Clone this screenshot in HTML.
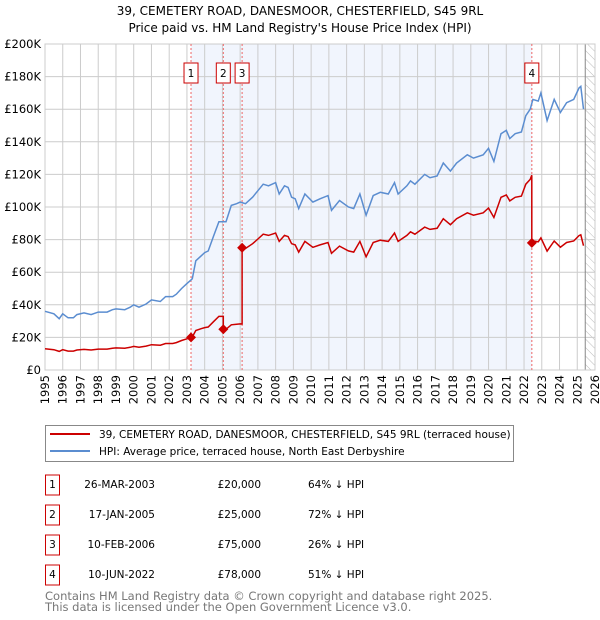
<!DOCTYPE html>
<html><head><meta charset="utf-8">
<style>
body{margin:0;background:#fff;font-family:"DejaVu Sans","Liberation Sans",sans-serif;}
svg{display:block}
</style></head>
<body>
<svg id="chart" width="600" height="620" xmlns="http://www.w3.org/2000/svg" font-family="DejaVu Sans, Liberation Sans, sans-serif">
<defs>
<pattern id="hatch" width="6" height="6" patternUnits="userSpaceOnUse" patternTransform="rotate(-45)">
<line x1="0" y1="0" x2="0" y2="6" stroke="#bbb" stroke-width="1"/>
</pattern>
</defs>
<text x="300" y="15" text-anchor="middle" font-size="12">39, CEMETERY ROAD, DANESMOOR, CHESTERFIELD, S45 9RL</text>
<text x="300" y="32" text-anchor="middle" font-size="12">Price paid vs. HM Land Registry's House Price Index (HPI)</text>
<g id="plot"></g>
<g>
<rect x="45.5" y="425.5" width="468" height="36" fill="#fff" stroke="#888"/>
<line x1="50" y1="434" x2="90" y2="434" stroke="#cc0000" stroke-width="2"/>
<text x="99" y="438" font-size="10.5">39, CEMETERY ROAD, DANESMOOR, CHESTERFIELD, S45 9RL (terraced house)</text>
<line x1="50" y1="451" x2="90" y2="451" stroke="#5b8dd0" stroke-width="2"/>
<text x="99" y="455" font-size="10.5">HPI: Average price, terraced house, North East Derbyshire</text>
</g>
<g id="table" font-size="10.5"></g>
<text x="45" y="600" font-size="11.5" fill="#777">Contains HM Land Registry data © Crown copyright and database right 2025.</text>
<text x="45" y="611" font-size="11.5" fill="#777">This data is licensed under the Open Government Licence v3.0.</text>
</svg>
<script>
const hpiYears=[1995,1995.5,1995.8,1996,1996.3,1996.6,1996.8,1997.2,1997.6,1998,1998.5,1998.8,1999,1999.5,1999.8,2000,2000.3,2000.7,2001,2001.5,2001.8,2002.2,2002.4,2002.7,2003,2003.2,2003.3,2003.5,2003.8,2004,2004.2,2004.5,2004.8,2005,2005.2,2005.5,2005.8,2006,2006.3,2006.7,2007,2007.3,2007.6,2008,2008.2,2008.5,2008.7,2008.9,2009.1,2009.3,2009.65,2010.1,2010.5,2010.95,2011.15,2011.6,2012.1,2012.4,2012.75,2013.1,2013.5,2013.9,2014.35,2014.7,2014.9,2015.4,2015.6,2015.85,2016.4,2016.7,2017.1,2017.45,2017.85,2018.2,2018.8,2019.15,2019.7,2020,2020.3,2020.7,2021,2021.2,2021.5,2021.85,2022.1,2022.35,2022.5,2022.8,2022.95,2023.3,2023.7,2024.05,2024.4,2024.8,2025.1,2025.2,2025.35];
const hpiValues=[36,34.5,31.5,34.5,32,32,34,35,34,35.5,35.5,37,37.5,37,38.5,40,38.5,40.5,43,42,45,45,46.5,50,53,55,56,67,70,72,73,82,91,91,91,101,102,103,102,106,110,114,113,115,108,113,112,106,105,99,108,103,105,107,98,104,100,99,108,95,107,109,108,115,108,113,116,114,120,118,119,127,122,127,132,130,132,136,128,145,147,142,145,146,156,160,166,165,170,153,166,158,164,166,173,174,160];
const saleLabels=["1","2","3","4"];
const saleDates=[2003.23,2005.05,2006.11,2022.44];
const salePrices=[20000,25000,75000,78000];
const saleDateText=["26-MAR-2003","17-JAN-2005","10-FEB-2006","10-JUN-2022"];
const salePriceText=["£20,000","£25,000","£75,000","£78,000"];
const salePctText=["64% ↓ HPI","72% ↓ HPI","26% ↓ HPI","51% ↓ HPI"];
const yTicks=[0,20,40,60,80,100,120,140,160,180,200];
const yTickLabels=["£0","£20K","£40K","£60K","£80K","£100K","£120K","£140K","£160K","£180K","£200K"];
const xTicks=[1995,1996,1997,1998,1999,2000,2001,2002,2003,2004,2005,2006,2007,2008,2009,2010,2011,2012,2013,2014,2015,2016,2017,2018,2019,2020,2021,2022,2023,2024,2025,2026];
const dataEndYear=2025.45;

const NS="http://www.w3.org/2000/svg";
const X0=45,X1=595,Y0=370,Y1=44;
const xs=y=>X0+(y-1995)/(2026-1995)*(X1-X0);
const ys=v=>Y0-v/200*(Y0-Y1);
function mk(tag,attrs,parent){const e=document.createElementNS(NS,tag);for(const k in attrs)e.setAttribute(k,attrs[k]);parent.appendChild(e);return e;}
const plot=document.getElementById('plot');
function hpiAt(t){for(let i=1;i<hpiYears.length;i++){if(t<=hpiYears[i]){const a=hpiYears[i-1],b=hpiYears[i];return hpiValues[i-1]+(hpiValues[i]-hpiValues[i-1])*(t-a)/(b-a);}}return hpiValues[hpiValues.length-1];}

// shaded ownership region
let r=mk('rect',{x:xs(saleDates[0]),y:Y1,width:xs(saleDates[3])-xs(saleDates[0]),height:Y0-Y1,fill:'#eef3fd',opacity:0.8},plot);


// hatch future
r=mk('rect',{x:xs(dataEndYear),y:Y1,width:X1-xs(dataEndYear),height:Y0-Y1,fill:'url(#hatch)'},plot);


// grid
yTicks.forEach((v,i)=>{
 const l=mk('line',{x1:X0,x2:X1,y1:ys(v),y2:ys(v),stroke:'#ccc','stroke-width':1},plot);
 
 
 const t=mk('text',{x:X0-4,y:ys(v)+4,'text-anchor':'end','font-size':11.5},plot);
 t.textContent=yTickLabels[i];
 
 
});
xTicks.forEach(y=>{
 const l=mk('line',{x1:xs(y),x2:xs(y),y1:Y1,y2:Y0,stroke:'#ccc','stroke-width':1},plot);
 
 
 const t=mk('text',{x:0,y:0,'text-anchor':'end','font-size':11.5,transform:`translate(${xs(y)+4},${Y0+5}) rotate(-90)`},plot);
 t.textContent=y;
 
 
});
const ln=mk('line',{x1:xs(dataEndYear),x2:xs(dataEndYear),y1:Y1,y2:Y0,stroke:'#888','stroke-width':1},plot);


const fr=mk('rect',{x:X0,y:Y1,width:X1-X0,height:Y0-Y1,fill:'none',stroke:'#ccc'},plot);



// sale markers lines & labels
saleDates.forEach((d,i)=>{
 const l=mk('line',{x1:xs(d),x2:xs(d),y1:Y1,y2:Y0,stroke:'#e66','stroke-width':1,'stroke-dasharray':'2,2'},plot);
 
 
 const b=mk('rect',{x:xs(d)-7,y:63,width:14,height:20,fill:'#fff',stroke:'#cc0000'},plot);
 
 
 const t=mk('text',{x:xs(d),y:77,'text-anchor':'middle','font-size':10.5},plot);
 t.textContent=saleLabels[i];
 
 
});

// HPI line
let pts=hpiYears.map((y,i)=>xs(y).toFixed(1)+','+ys(hpiValues[i]).toFixed(1)).join(' ');
const hp=mk('polyline',{points:pts,fill:'none',stroke:'#5b8dd0','stroke-width':1.5},plot);



// property line: indexed from HPI by latest sale
function saleIdx(t){let k=0;for(let i=0;i<saleDates.length;i++)if(t>=saleDates[i])k=i;return k;}
const times=[...hpiYears,...saleDates,...saleDates.map(d=>d-0.001)].sort((a,b)=>a-b);
const rp=times.map(t=>{const k=saleIdx(t);const v=salePrices[k]/1000*hpiAt(t)/hpiAt(saleDates[k]);return xs(t).toFixed(1)+','+ys(v).toFixed(1);}).join(' ');
const pl=mk('polyline',{points:rp,fill:'none',stroke:'#cc0000','stroke-width':1.5},plot);


saleDates.forEach((d,i)=>{
 const x=xs(d),y=ys(salePrices[i]/1000);
 const p=mk('polygon',{points:`${x},${y-5} ${x+5},${y} ${x},${y+5} ${x-5},${y}`,fill:'#cc0000'},plot);
 
 
});

// table
const tb=document.getElementById('table');
saleLabels.forEach((s,i)=>{
 const cy=485+i*30;
 const b=mk('rect',{x:45.5,y:cy-10,width:14,height:20,fill:'#fff',stroke:'#cc0000'},tb);
 
 
 let t=mk('text',{x:52.5,y:cy+3,'text-anchor':'middle'},tb);t.textContent=s;
 
 
 t=mk('text',{x:155,y:cy+3,'text-anchor':'end'},tb);t.textContent=saleDateText[i];
 
 
 t=mk('text',{x:261,y:cy+3,'text-anchor':'end'},tb);t.textContent=salePriceText[i];
 
 
 t=mk('text',{x:308,y:cy+3},tb);t.textContent=salePctText[i];
 
 
});
</script>
</body></html>
